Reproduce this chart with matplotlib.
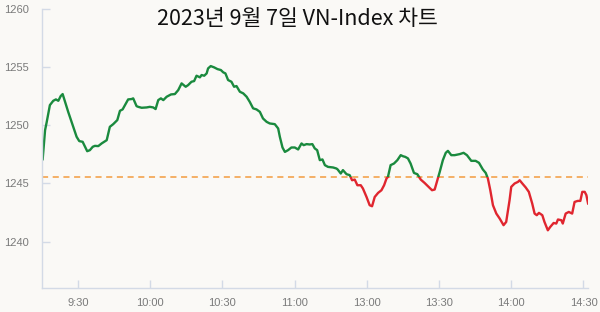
import matplotlib
matplotlib.use("Agg")
import matplotlib.pyplot as plt
from matplotlib.patches import Rectangle

# Trading minutes since 9:15 (lunch break 11:30-13:00 removed)
minutes = [0.4, 1.4, 2.1, 3.4, 4.8, 5.9, 6.9, 7.9, 8.7, 9.7, 11.0, 13.1, 14.5, 15.6, 17.0, 18.0,
           18.9, 20.0, 21.2, 22.1, 23.5, 24.9, 27.0, 28.3, 29.7, 31.4, 32.5, 33.6, 35.0, 35.9,
           37.3, 38.0, 39.4, 40.1, 41.5, 43.6, 44.9, 46.3, 47.3, 48.4, 49.5, 50.5, 51.9, 53.7,
           55.3, 56.7, 58.1, 59.8, 60.8, 62.2, 63.3, 64.3, 65.7, 66.4, 67.5, 68.5, 69.1, 70.2,
           71.6, 73.0, 74.4, 75.4, 76.3, 77.4, 78.8, 79.9, 80.9, 82.3, 83.7, 85.1, 86.4, 87.8,
           89.2, 90.6, 91.9, 93.4, 94.7, 96.8, 98.2, 98.9, 100.0, 101.0, 102.3, 103.7, 105.1,
           106.5, 107.9, 108.8, 110.0, 111.3, 112.4, 113.4, 114.4, 115.5, 116.6, 117.6, 118.9,
           121.0, 122.4, 122.9, 124.2, 125.1, 126.6, 127.9, 128.9, 130.0, 131.1, 132.5, 133.4,
           134.9, 136.2, 137.2, 138.3, 139.7, 141.1, 142.2, 143.2, 143.8, 144.9, 146.3, 147.7,
           149.1, 150.0, 151.0, 152.1, 153.2, 154.6, 156.0, 157.4, 159.0, 160.7, 162.1, 163.2,
           164.3, 165.3, 166.6, 167.8, 168.7, 170.1, 171.5, 173.6, 175.2, 176.6, 178.4, 180.2,
           181.6, 183.2, 184.4, 185.3, 186.3, 187.4, 188.8, 190.2, 191.8, 192.9, 194.3, 195.0,
           196.4, 197.8, 198.5, 199.6, 201.0, 202.3, 203.7, 204.7, 205.6, 206.5, 207.9, 208.8,
           210.2, 211.2, 212.6, 213.7, 214.4, 215.8, 216.4, 217.6, 218.9, 220.3, 221.3, 222.6,
           223.7, 224.5, 225.5, 226.2, 226.9]

index_vals = [1247.09, 1249.59, 1250.31, 1251.75, 1252.12, 1252.24, 1252.12, 1252.53, 1252.70,
              1252.03, 1251.17, 1249.88, 1249.02, 1248.65, 1248.59, 1248.16, 1247.78, 1247.87,
              1248.16, 1248.24, 1248.22, 1248.45, 1248.73, 1249.88, 1250.11, 1250.46, 1251.26,
              1251.38, 1251.90, 1252.24, 1252.27, 1252.33, 1251.66, 1251.60, 1251.52, 1251.55,
              1251.60, 1251.55, 1251.41, 1252.18, 1252.33, 1252.18, 1252.47, 1252.67, 1252.70,
              1253.04, 1253.62, 1253.33, 1253.47, 1253.76, 1253.82, 1254.28, 1254.14, 1254.34,
              1254.28, 1254.48, 1254.91, 1255.11, 1255.00, 1254.85, 1254.77, 1254.57, 1254.48,
              1253.91, 1253.76, 1253.33, 1253.39, 1252.90, 1252.76, 1252.47, 1252.03, 1251.47,
              1251.38, 1251.17, 1250.60, 1250.31, 1250.17, 1250.11, 1249.74, 1249.02, 1248.10,
              1247.72, 1247.87, 1248.10, 1248.10, 1247.93, 1248.45, 1248.30, 1248.39, 1248.36,
              1248.39, 1248.02, 1247.87, 1247.01, 1247.07, 1246.58, 1246.43, 1246.38, 1246.29,
              1246.21, 1245.86, 1246.15, 1245.80, 1245.72, 1245.28, 1245.34, 1244.85, 1244.85,
              1244.57, 1243.84, 1243.13, 1243.04, 1243.84, 1244.19, 1244.42, 1244.85, 1245.43,
              1245.57, 1246.58, 1246.72, 1247.01, 1247.44, 1247.35, 1247.29, 1247.16, 1246.72,
              1245.91, 1245.80, 1245.34, 1245.05, 1244.71, 1244.42, 1244.48, 1245.28, 1246.00,
              1247.01, 1247.64, 1247.81, 1247.44, 1247.44, 1247.53, 1247.64, 1247.44, 1246.95,
              1246.95, 1246.78, 1246.21, 1245.91, 1245.43, 1244.42, 1243.13, 1242.41, 1241.98,
              1241.41, 1241.69, 1243.56, 1244.71, 1245.00, 1245.14, 1245.28, 1245.00, 1244.66,
              1244.28, 1243.28, 1242.41, 1242.27, 1242.47, 1242.27, 1241.69, 1240.97, 1241.26,
              1241.60, 1241.55, 1241.90, 1241.84, 1241.55, 1242.41, 1242.55, 1242.41, 1243.41,
              1243.50, 1243.50, 1244.28, 1244.28, 1244.00, 1243.28]

ref_level = 1245.55  # previous close (dashed line)

tick_pos = [15, 45, 75, 105, 135, 165, 195, 225]
tick_labels = ["9:30", "10:00", "10:30", "11:00", "13:00", "13:30", "14:00", "14:30"]
y_ticks = [1240, 1245, 1250, 1255, 1260]

bg = "#faf9f6"
axis_col = "#d3dae6"
green = "#1a8a3e"
red = "#e0262f"

fig = plt.figure(figsize=(6, 3.12), dpi=100, facecolor=bg)
ax = fig.add_axes([0.0695, 0.0769, 0.911, 0.8933])
ax.set_facecolor(bg)

x_lo, x_hi = 0, 227
y_lo, y_hi = 1236, 1260

# green above the reference level, red below
up_line, = ax.plot(minutes, index_vals, color=green, lw=1.7, solid_joinstyle="round")
up_line.set_clip_path(Rectangle((x_lo, ref_level), x_hi - x_lo, 100, transform=ax.transData))
down_line, = ax.plot(minutes, index_vals, color=red, lw=1.7, solid_joinstyle="round")
down_line.set_clip_path(Rectangle((x_lo, ref_level - 100), x_hi - x_lo, 100, transform=ax.transData))

ax.axhline(ref_level, color="#f39c3f", lw=1.1, linestyle=(0, (4, 3)), zorder=1)

ax.set_xlim(x_lo, x_hi)
ax.set_ylim(y_lo, y_hi)
ax.set_xticks(tick_pos)
ax.set_xticklabels(tick_labels)
ax.set_yticks(y_ticks)

for s in ["top", "right"]:
    ax.spines[s].set_visible(False)
for s in ["left", "bottom"]:
    ax.spines[s].set_color(axis_col)
    ax.spines[s].set_linewidth(1)

ax.tick_params(axis="both", direction="in", length=6, width=1, color=axis_col,
               labelcolor="#7a7a7a", labelsize=8)
ax.tick_params(axis="y", pad=9)
ax.tick_params(axis="x", pad=7)
for lab in ax.get_xticklabels() + ax.get_yticklabels():
    lab.set_fontfamily("Liberation Sans")

fig.text(0.495, 0.94, "2023년 9월 7일 VN-Index 차트", ha="center", va="center",
         fontsize=15.5, color="#111111", family=["Noto Sans CJK KR", "DejaVu Sans"])

fig.savefig("out.png", dpi=100, facecolor=bg)
